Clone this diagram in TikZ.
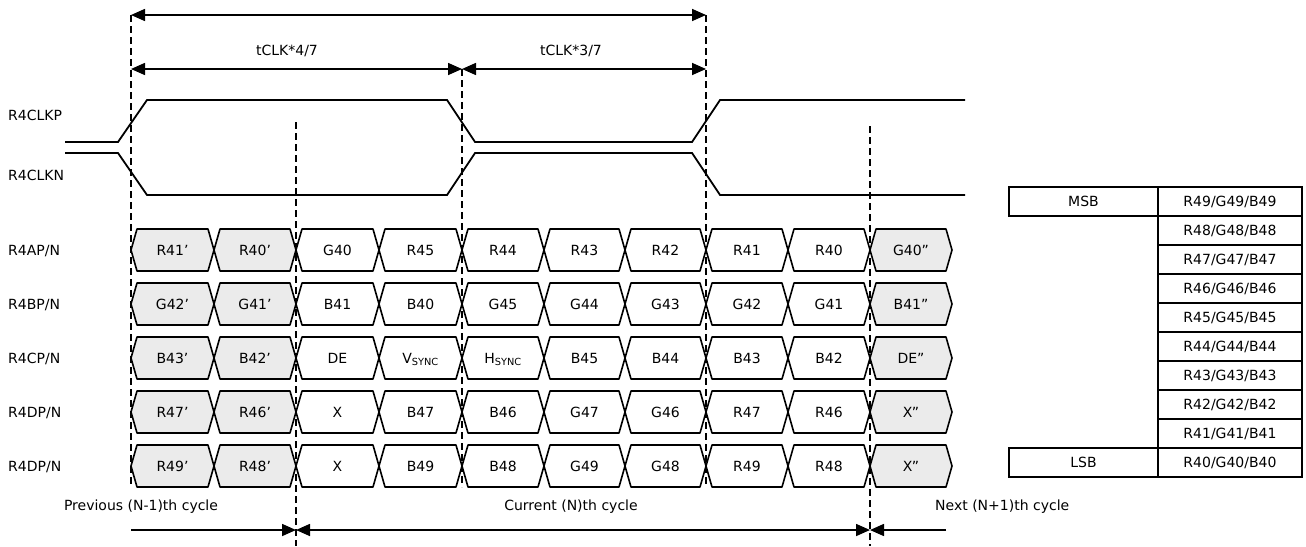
\documentclass[tikz,border=0pt]{standalone}
\usepackage{fontspec}
\setmainfont{DejaVu Sans}
\usetikzlibrary{arrows.meta}
\definecolor{cellgray}{RGB}{235,235,235}
\def\bx{{131,214,296,379,462,544,625,706,788,870,952}}
\newcommand{\drow}[2]{%
  \foreach \celltxt [count=\i from 0] in {#2} {
    \pgfmathsetmacro\xl{\bx[\i]}
    \pgfmathsetmacro\xr{\bx[\i+1]}
    \pgfmathtruncatemacro\gg{or(\i<2,\i>8)}
    \ifnum\gg=1 \def\fc{cellgray}\else\def\fc{white}\fi
    \draw[cellline,fill=\fc] (\xl,#1) -- (\xl+6,#1-21) -- (\xr-6,#1-21) -- (\xr,#1)
      -- (\xr-6,#1+21) -- (\xl+6,#1+21) -- cycle;
    \node[lbl] (c\i-#1) at ({(\xl+\xr)/2},#1) {\celltxt};
  }
}
\begin{document}
\begin{tikzpicture}[x=1pt,y=-1pt,
  lbl/.style={font=\fontsize{14}{16}\selectfont, inner sep=0pt, text height=10.2pt, text depth=0pt},
  wave/.style={line width=1.8pt},
  cellline/.style={line width=1.6pt, line join=round},
  guide/.style={line width=1.4pt, dash pattern=on 7pt off 4pt},
  dimarrow/.style={line width=1.6pt, {Triangle[length=14pt,width=12pt]}-{Triangle[length=14pt,width=12pt]}},
  onearrow/.style={line width=1.6pt, -{Triangle[length=14pt,width=12pt]}},
  tcell/.style={draw, line width=1.2pt, minimum height=29pt, inner sep=0pt, font=\fontsize{14}{16}\selectfont},
]
\useasboundingbox (0,0) rectangle (1306,546);

% data rows
\drow{250}{R41’,R40’,G40,R45,R44,R43,R42,R41,R40,G40”}
\drow{304}{G42’,G41’,B41,B40,G45,G44,G43,G42,G41,B41”}
\drow{358}{B43’,B42’,DE,V\textsubscript{SYNC},H\textsubscript{SYNC},B45,B44,B43,B42,DE”}
\drow{412}{R47’,R46’,X,B47,B46,G47,G46,R47,R46,X”}
\drow{466}{R49’,R48’,X,B49,B48,G49,G48,R49,R48,X”}

% guides
\coordinate (g1t) at (131,15);  \coordinate (g1b) at (131,487);
\coordinate (g2t) at (296,122); \coordinate (g2b) at (296,546);
\coordinate (g3t) at (462,69);  \coordinate (g3b) at (462,487);
\coordinate (g4t) at (706,15);  \coordinate (g4b) at (706,487);
\coordinate (g5t) at (870,126); \coordinate (g5b) at (870,546);
\foreach \g in {1,...,5} {\draw[guide] (g\g t) -- (g\g b);}

% top dimension arrows
\coordinate (a1) at (131,69); \coordinate (a3) at (706,69);
\draw[dimarrow] (g1t) -- (g4t);
\draw[dimarrow] (a1) -- (g3t);
\draw[dimarrow] (g3t) -- (a3);
\node[lbl] (t47) at (287,50) {tCLK*4/7};
\node[lbl] (t37) at (571,50) {tCLK*3/7};

% clock waveforms
\draw[wave] (65,142) -- (118,142) -- (147,100) -- (447,100) -- (475,142) -- (692,142) -- (720,100) -- (965,100);
\draw[wave] (65,153) -- (118,153) -- (147,195) -- (447,195) -- (475,153) -- (692,153) -- (720,195) -- (965,195);
\node[lbl,anchor=west] (lp) at (8,115) {R4CLKP};
\node[lbl,anchor=west] (ln) at (8,175) {R4CLKN};

% row labels
\node[lbl,anchor=west] (la) at (8,250) {R4AP/N};
\node[lbl,anchor=west] (lb) at (8,304) {R4BP/N};
\node[lbl,anchor=west] (lc) at (8,358) {R4CP/N};
\node[lbl,anchor=west] (ld) at (8,412) {R4DP/N};
\node[lbl,anchor=west] (le) at (8,466) {R4DP/N};

% bottom cycle arrows
\coordinate (b0) at (131,530); \coordinate (b1) at (296,530);
\coordinate (b2) at (870,530); \coordinate (b3) at (946,530);
\draw[onearrow] (b0) -- (b1);
\draw[dimarrow] (b1) -- (b2);
\draw[onearrow] (b3) -- (b2);
\node[lbl] (prev) at (141,505) {Previous (N-1)th cycle};
\node[lbl] (cur) at (571,505) {Current (N)th cycle};
\node[lbl,anchor=west] (next) at (935,505) {Next (N+1)th cycle};

% bit table
\node[tcell, minimum width=149pt] (msb) at (1083.5,201.5) {MSB};
\foreach \k in {0,...,9} {
  \pgfmathtruncatemacro\n{49-\k}
  \node[tcell, minimum width=144pt] (r\n) at (1230,201.5+29*\k) {R\n/G\n/B\n};
}
\node[tcell, minimum width=149pt] (lsb) at (1083.5,462.5) {LSB};
\end{tikzpicture}
\end{document}
